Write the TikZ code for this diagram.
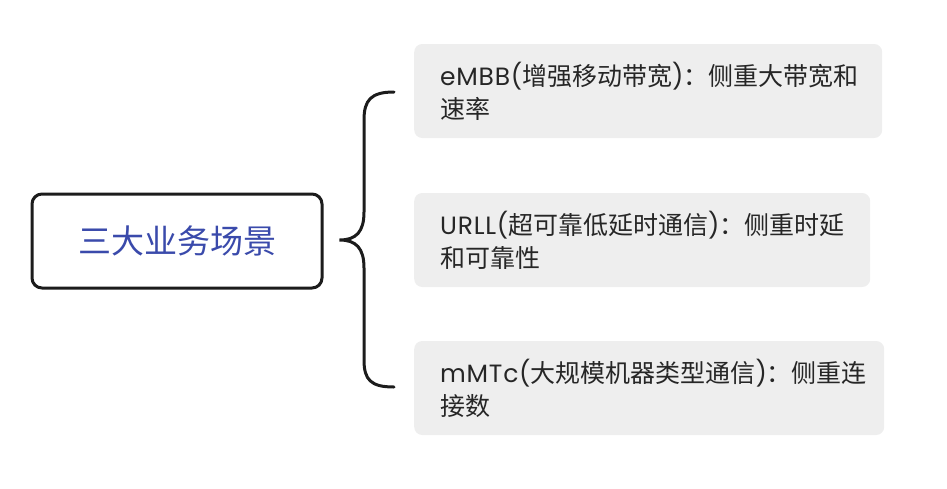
\documentclass[tikz,border=0pt]{standalone}
\usepackage{fontspec}
\setmainfont{Noto Sans CJK SC}
\newfontfamily\latfont[LetterSpace=3]{Poppins}
\newcommand{\lat}[1]{{\latfont #1}}
\usetikzlibrary{calc}
\definecolor{rootblue}{HTML}{3A4AAB}
\definecolor{boxgray}{HTML}{EEEEEE}
\definecolor{ink}{HTML}{1C1C1C}
\definecolor{txt}{HTML}{262626}
\begin{document}
\begin{tikzpicture}[x=1pt,y=-1pt,
  rootbox/.style={draw=ink, line width=3pt, rounded corners=10pt, fill=white,
    minimum width=290pt, minimum height=94pt, inner sep=0pt,
    font=\fontsize{33}{40}\selectfont, text=rootblue},
  leaf/.style={fill=boxgray, rounded corners=8pt, minimum height=94pt,
    inner xsep=26pt, inner ysep=0pt, align=left, anchor=west,
    font=\fontsize{25}{33}\selectfont, text=txt},
  bracepath/.style={draw=ink, line width=3pt, line cap=round}]
\useasboundingbox (0,0) rectangle (947,488);
\node[rootbox] (root) at (177,241) {三大业务场景};
\node[leaf, text width=416pt] (b1) at (414,91) {\lat{eMBB(}增强移动带宽\lat{)}：侧重大带宽和\\速率};
\node[leaf, text width=404pt] (b2) at (414,240) {\lat{URLL(}超可靠低延时通信\lat{)}：侧重时延\\和可靠性};
\node[leaf, text width=418pt] (b3) at (414,388) {\lat{mMTc(}大规模机器类型通信\lat{)}：侧重连\\接数};
\coordinate (tip) at ($(root.east)+(16,-1)$);
\coordinate (top) at ($(b1.west)+(-20,1)$);
\coordinate (bot) at ($(b3.west)+(-20,-1)$);
\draw[bracepath] (top) .. controls (371,92) and (364,100) .. (364,120)
  -- (364,212) .. controls (364,232) and (356,240) .. (tip)
  .. controls (356,240) and (364,248) .. (364,268)
  -- (364,360) .. controls (364,380) and (371,387) .. (bot);
\end{tikzpicture}
\end{document}
